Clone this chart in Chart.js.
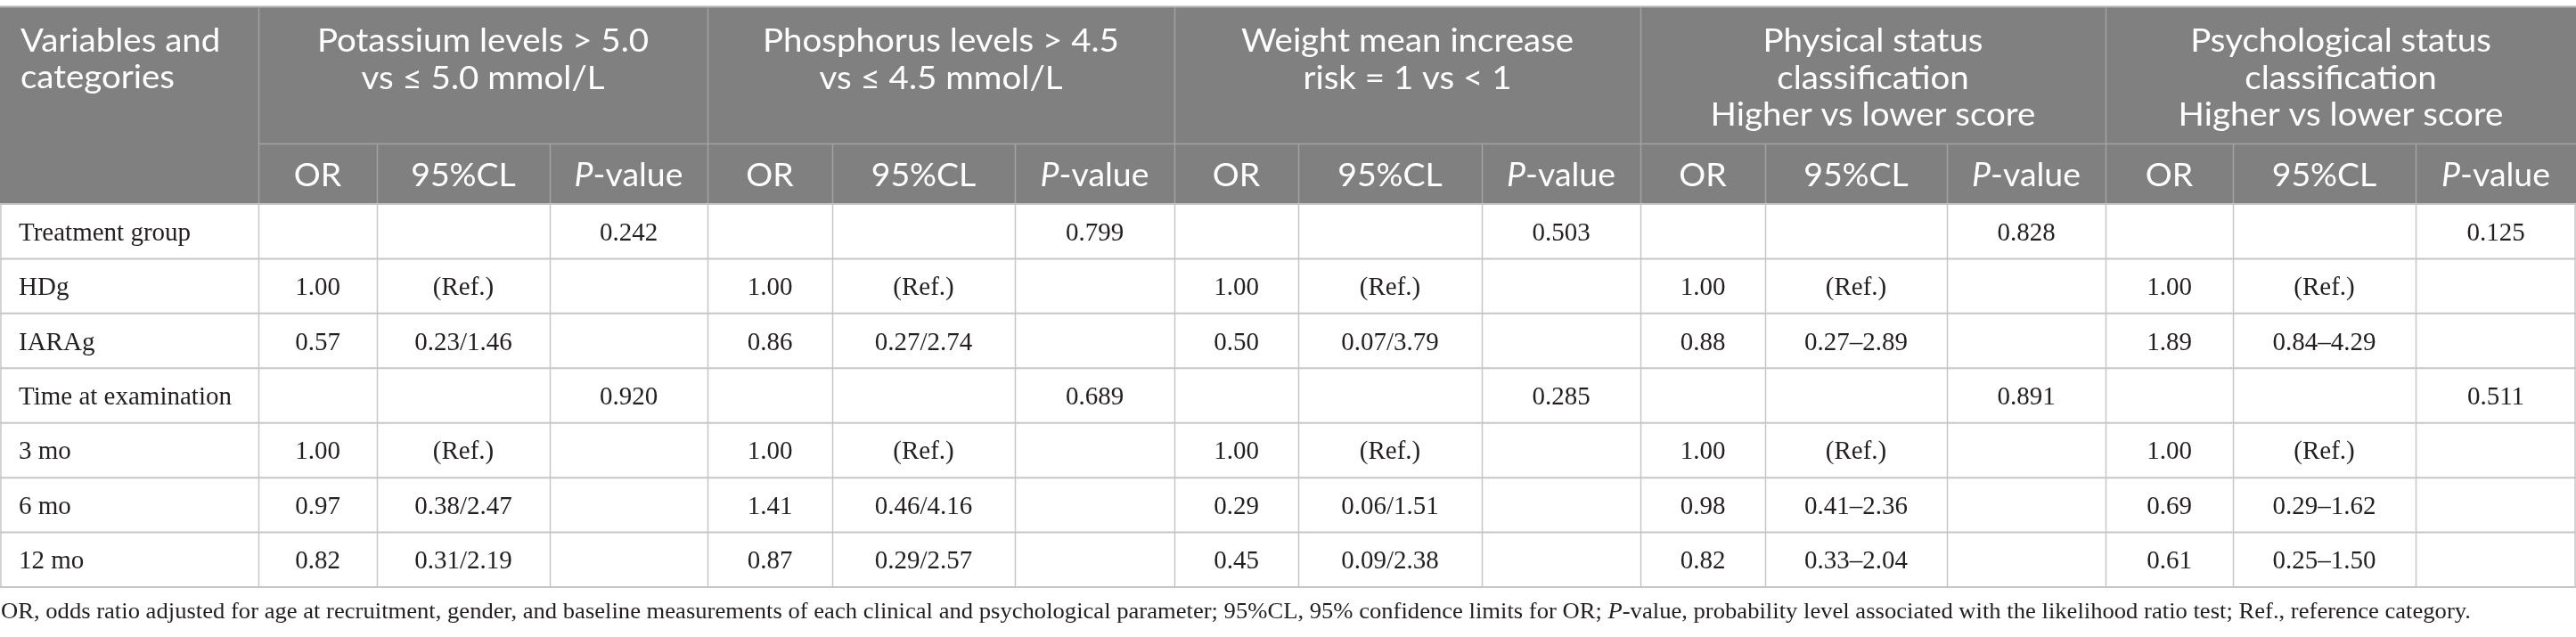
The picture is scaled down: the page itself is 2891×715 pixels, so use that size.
<!DOCTYPE html>
<html>
<head>
<meta charset="utf-8">
<title>Odds ratios table</title>
<script src="https://cdn.jsdelivr.net/npm/chart.js@4.4.1/dist/chart.umd.min.js"></script>
<style>
  html, body { margin: 0; padding: 0; background: #ffffff; }
  #wrap { width: 2891px; height: 715px; position: relative; }
</style>
</head>
<body>
<div id="wrap"><canvas id="chart-table" width="2891" height="715"></canvas></div>
<script>
/* ── Table content ─────────────────────────── */

var ROW_LABELS = ["Treatment group", "HDg", "IARAg", "Time at examination", "3 mo", "6 mo", "12 mo"];

var STUB_TITLE = ["Variables and", "categories"];

var GROUP_TITLES = [
  ["Potassium levels > 5.0", "vs \u2264 5.0 mmol/L"],
  ["Phosphorus levels > 4.5", "vs \u2264 4.5 mmol/L"],
  ["Weight mean increase", "risk = 1 vs < 1"],
  ["Physical status", "classification", "Higher vs lower score"],
  ["Psychological status", "classification", "Higher vs lower score"]
];

var POTASSIUM_OR = ["", "1.00", "0.57", "", "1.00", "0.97", "0.82"];
var POTASSIUM_CL = ["", "(Ref.)", "0.23/1.46", "", "(Ref.)", "0.38/2.47", "0.31/2.19"];
var POTASSIUM_P  = ["0.242", "", "", "0.920", "", "", ""];

var PHOSPHORUS_OR = ["", "1.00", "0.86", "", "1.00", "1.41", "0.87"];
var PHOSPHORUS_CL = ["", "(Ref.)", "0.27/2.74", "", "(Ref.)", "0.46/4.16", "0.29/2.57"];
var PHOSPHORUS_P  = ["0.799", "", "", "0.689", "", "", ""];

var WEIGHT_OR = ["", "1.00", "0.50", "", "1.00", "0.29", "0.45"];
var WEIGHT_CL = ["", "(Ref.)", "0.07/3.79", "", "(Ref.)", "0.06/1.51", "0.09/2.38"];
var WEIGHT_P  = ["0.503", "", "", "0.285", "", "", ""];

var PHYSICAL_OR = ["", "1.00", "0.88", "", "1.00", "0.98", "0.82"];
var PHYSICAL_CL = ["", "(Ref.)", "0.27\u20132.89", "", "(Ref.)", "0.41\u20132.36", "0.33\u20132.04"];
var PHYSICAL_P  = ["0.828", "", "", "0.891", "", "", ""];

var PSYCH_OR = ["", "1.00", "1.89", "", "1.00", "0.69", "0.61"];
var PSYCH_CL = ["", "(Ref.)", "0.84\u20134.29", "", "(Ref.)", "0.29\u20131.62", "0.25\u20131.50"];
var PSYCH_P  = ["0.125", "", "", "0.511", "", "", ""];

var FOOTNOTE_START = "OR, odds ratio adjusted for age at recruitment, gender, and baseline measurements of each clinical and psychological parameter; 95%CL, 95% confidence limits for OR; ";
var FOOTNOTE_END = "-value, probability level associated with the likelihood ratio test; Ref., reference category.";

/* ── Layout (pixels in scale units) ────────── */

var COL_EDGES = [0, 290, 423, 617, 794, 934, 1139, 1318, 1457, 1663, 1841, 1981, 2185, 2363, 2506, 2711, 2891];
var HEAD_TOP = 8, SUB_TOP = 161, BODY_TOP = 229, BODY_BOTTOM = 659;

var HEAD_FONT = "'Lato', 'Open Sans', sans-serif";
var BODY_FONT = "'Liberation Serif', 'DejaVu Serif', serif";
var HEAD_SIZE = 37, HEAD_STRETCH = 1.04;

/* ── Helpers ───────────────────────────────── */

// segments: [{t: "text", italic: bool}], drawn as one run
// stretch: horizontal scale factor; fitWidth: force run to this width
function drawRich(ctx, segs, x, y, size, family, align, fitWidth, stretch) {
  var total = 0;
  segs.forEach(function (s) {
    ctx.font = (s.italic ? "italic " : "") + size + "px " + family;
    s.w = ctx.measureText(s.t).width;
    total += s.w;
  });
  var sx = fitWidth ? fitWidth / total : (stretch || 1);
  var start = x;
  if (align === "center") start = x - total * sx / 2;
  ctx.save();
  ctx.translate(start, y);
  ctx.scale(sx, 1);
  ctx.textAlign = "left";
  var off = 0;
  segs.forEach(function (s) {
    ctx.font = (s.italic ? "italic " : "") + size + "px " + family;
    ctx.fillText(s.t, off, 0);
    off += s.w;
  });
  ctx.restore();
}

function line(ctx, x1, y1, x2, y2, color, w) {
  ctx.beginPath();
  ctx.strokeStyle = color;
  ctx.lineWidth = w;
  ctx.moveTo(x1, y1);
  ctx.lineTo(x2, y2);
  ctx.stroke();
}

/* ── Table plugin ──────────────────────────── */

var tablePlugin = {
  id: "tableDraw",
  afterDraw: function (chart) {
    var ctx = chart.ctx;
    var xs = chart.scales.x, ys = chart.scales.y;
    function X(v) { return xs.getPixelForValue(v); }
    function Y(v) { return ys.getPixelForValue(v); }

    var groups = [
      [POTASSIUM_OR, POTASSIUM_CL, POTASSIUM_P],
      [PHOSPHORUS_OR, PHOSPHORUS_CL, PHOSPHORUS_P],
      [WEIGHT_OR, WEIGHT_CL, WEIGHT_P],
      [PHYSICAL_OR, PHYSICAL_CL, PHYSICAL_P],
      [PSYCH_OR, PSYCH_CL, PSYCH_P]
    ];
    var nRows = ROW_LABELS.length;
    var rowH = (BODY_BOTTOM - BODY_TOP) / nRows;
    var left = X(COL_EDGES[0]), right = X(COL_EDGES[COL_EDGES.length - 1]);

    ctx.save();

    // header block
    ctx.fillStyle = "#808080";
    ctx.fillRect(left, Y(HEAD_TOP), right - left, Y(BODY_TOP) - Y(HEAD_TOP));
    line(ctx, left, Y(HEAD_TOP) - 0.5, right, Y(HEAD_TOP) - 0.5, "#b4b4b4", 2);

    // header separators
    var hdr = "#a3a3a3";
    line(ctx, X(COL_EDGES[1]), Y(SUB_TOP) + 0.5, right, Y(SUB_TOP) + 0.5, hdr, 1.5);
    for (var i = 1; i < COL_EDGES.length - 1; i++) {
      var isGroup = (i - 1) % 3 === 0;
      var top = isGroup ? HEAD_TOP : SUB_TOP;
      line(ctx, X(COL_EDGES[i]) + 0.5, Y(top), X(COL_EDGES[i]) + 0.5, Y(BODY_TOP), hdr, 1.5);
    }

    // header text
    ctx.fillStyle = "#ffffff";
    ctx.textBaseline = "alphabetic";
    STUB_TITLE.forEach(function (t, k) {
      drawRich(ctx, [{ t: t }], X(23), Y(58 + k * 41), HEAD_SIZE, HEAD_FONT, "left", null, HEAD_STRETCH);
    });
    GROUP_TITLES.forEach(function (lines, g) {
      var cx = X((COL_EDGES[1 + 3 * g] + COL_EDGES[4 + 3 * g]) / 2);
      lines.forEach(function (t, k) {
        drawRich(ctx, [{ t: t }], cx, Y(58 + k * 41.5), HEAD_SIZE, HEAD_FONT, "center", null, HEAD_STRETCH);
      });
      var subY = Y(209);
      var c0 = X((COL_EDGES[1 + 3 * g] + COL_EDGES[2 + 3 * g]) / 2);
      var c1 = X((COL_EDGES[2 + 3 * g] + COL_EDGES[3 + 3 * g]) / 2);
      var c2 = X((COL_EDGES[3 + 3 * g] + COL_EDGES[4 + 3 * g]) / 2);
      drawRich(ctx, [{ t: "OR" }], c0, subY, 36, HEAD_FONT, "center", null, HEAD_STRETCH);
      drawRich(ctx, [{ t: "95%CL" }], c1, subY, 36, HEAD_FONT, "center", null, HEAD_STRETCH);
      drawRich(ctx, [{ t: "P", italic: true }, { t: "-value" }], c2, subY, 36, HEAD_FONT, "center", null, HEAD_STRETCH);
    });

    // body grid
    var grid = "#c6c6c6";
    for (var r = 0; r <= nRows; r++) {
      var yy = Y(BODY_TOP + r * rowH);
      line(ctx, left, yy, right, yy, grid, 2);
    }
    for (var c = 0; c < COL_EDGES.length; c++) {
      var xx = X(COL_EDGES[c]) + (c === 0 ? 1 : (c === COL_EDGES.length - 1 ? -1 : 0.5));
      line(ctx, xx, Y(BODY_TOP), xx, Y(BODY_BOTTOM), grid, 1.5);
    }

    // body text
    ctx.fillStyle = "#231f20";
    ROW_LABELS.forEach(function (label, r) {
      var base = Y(BODY_TOP + r * rowH + rowH / 2 + 10);
      drawRich(ctx, [{ t: label }], X(21), base, 29, BODY_FONT, "left");
      groups.forEach(function (cols, g) {
        cols.forEach(function (vals, k) {
          if (!vals[r]) return;
          var cx = X((COL_EDGES[1 + 3 * g + k] + COL_EDGES[2 + 3 * g + k]) / 2);
          drawRich(ctx, [{ t: vals[r] }], cx, base, 29, BODY_FONT, "center");
        });
      });
    });

    // footnote
    drawRich(ctx, [{ t: FOOTNOTE_START }, { t: "P", italic: true }, { t: FOOTNOTE_END }],
      X(1), Y(694), 25, BODY_FONT, "left", X(2773) - X(1));

    ctx.restore();
  }
};

/* ── Init ─────────────────────────────────── */

function init() {
  var canvas = document.getElementById("chart-table");
  new Chart(canvas, {
    type: "scatter",
    data: { datasets: [{ data: [], pointRadius: 0 }] },
    options: {
      responsive: false,
      maintainAspectRatio: false,
      animation: false,
      devicePixelRatio: 1,
      layout: { padding: 0 },
      scales: {
        x: { type: "linear", min: 0, max: 2891, display: false },
        y: { type: "linear", min: 0, max: 715, reverse: true, display: false }
      },
      plugins: { legend: { display: false }, tooltip: { enabled: false } }
    },
    plugins: [tablePlugin]
  });
}

if (document.readyState === "loading") {
  document.addEventListener("DOMContentLoaded", init);
} else {
  init();
}
</script>
</body>
</html>
